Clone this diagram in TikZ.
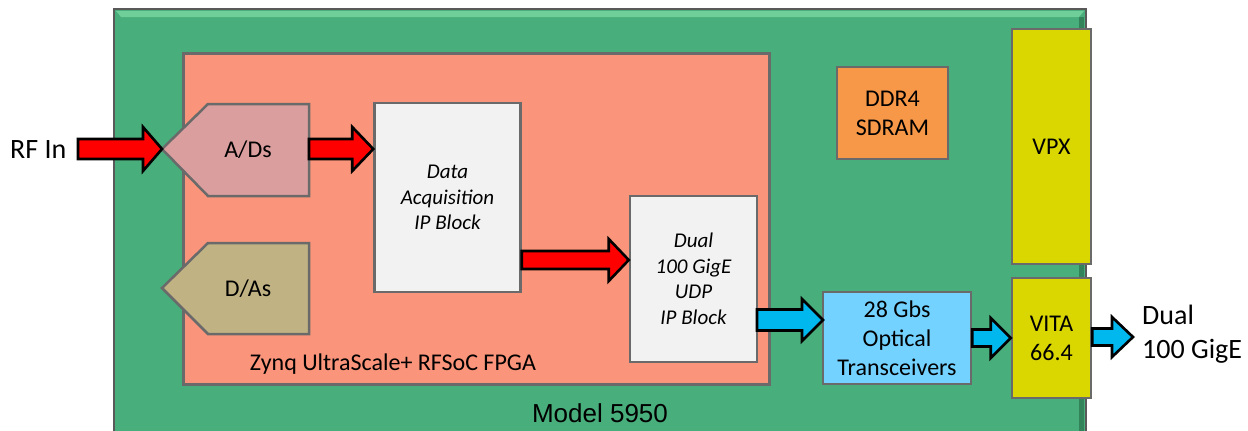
\documentclass[tikz,border=0pt]{standalone}
\usepackage{fontspec}
\setmainfont{Carlito}
\newfontfamily\arialfont{Liberation Sans}
\usetikzlibrary{calc}
\definecolor{board}{RGB}{72,174,123}
\definecolor{boardlight}{RGB}{112,206,152}
\definecolor{boarddark}{RGB}{50,130,90}
\definecolor{fpgacol}{RGB}{250,148,122}
\definecolor{adccol}{RGB}{219,158,158}
\definecolor{daccol}{RGB}{193,178,131}
\definecolor{ipcol}{RGB}{242,242,242}
\definecolor{edgecol}{RGB}{106,106,106}
\definecolor{ddrcol}{RGB}{247,152,72}
\definecolor{vpxcol}{RGB}{217,214,0}
\definecolor{opticcol}{RGB}{115,210,255}
\definecolor{bluearrow}{RGB}{0,183,238}
\definecolor{redarrow}{RGB}{255,0,0}
\newcommand\blockarrow[6]{% colour, from, to, shaft half, head half, head length
  \draw[arrowline, fill=#1] let \p1=(#2), \p2=(#3) in
    (\x1,\y2+#4) -- (\x2-#6,\y2+#4) -- (\x2-#6,\y2+#5) -- (\x2,\y2)
    -- (\x2-#6,\y2-#5) -- (\x2-#6,\y2-#4) -- (\x1,\y2-#4) -- cycle;}
\begin{document}
\begin{tikzpicture}[x=1pt,y=-1pt,
  box/.style={draw=edgecol, line width=2.5pt, inner sep=0pt, align=center,
    font=\fontsize{24pt}{29pt}\selectfont},
  ipbox/.style={box, fill=ipcol, font=\fontsize{21pt}{25.5pt}\selectfont\itshape},
  lbl/.style={inner sep=0pt, align=center, font=\fontsize{24pt}{29pt}\selectfont},
  arrowline/.style={draw=black, line width=2.6pt, line join=miter},
  shapeline/.style={draw=edgecol, line width=2.5pt, line join=miter}]
\useasboundingbox (0,0) rectangle (1248,431);
% board
\fill[board] (114,9) rectangle (1086,431);
\fill[boardlight] (116,11) -- (1084,11) -- (1079,17) -- (121,17) -- cycle;
\fill[boarddark] (1079,17) rectangle (1084,431);
\draw[draw=black!65, line width=2pt] (114,431) -- (114,9) -- (1086,9) -- (1086,431);
\node[lbl, font=\fontsize{26pt}{30pt}\selectfont\arialfont] (model) at (600,413) {Model 5950};
% FPGA
\node[box, fill=fpgacol, minimum width=586pt, minimum height=331pt, anchor=north west] (fpga) at (182,52) {};
\node[lbl, font=\fontsize{24pt}{29pt}\selectfont] (fpgalbl) at (393,364) {Zynq UltraScale+ RFSoC FPGA};
% A/Ds and D/As
\draw[shapeline, fill=adccol] (162,149) -- (208,104) -- (309,104) -- (309,196) -- (208,196) -- cycle;
\coordinate (adsw) at (162,149);
\coordinate (adse) at (309,149);
\node[lbl] (ads) at (248,150) {A/Ds};
\draw[shapeline, fill=daccol] (162,288) -- (208,243) -- (309,243) -- (309,334) -- (208,334) -- cycle;
\node[lbl] (das) at (248,289) {D/As};
% IP blocks
\node[ipbox, minimum width=146pt, minimum height=189pt] (daq) at (447.5,197.5) {Data\\Acquisition\\IP Block};
\node[ipbox, minimum width=127pt, minimum height=166pt] (udp) at (693.5,279) {Dual\\100 GigE\\UDP\\IP Block};
\coordinate (udpe) at (757,320);
% right side blocks
\node[box, fill=ddrcol, minimum width=111pt, minimum height=92pt] (ddr) at (892.5,113) {DDR4\\SDRAM};
\node[box, fill=vpxcol, minimum width=79pt, minimum height=235pt] (vpx) at (1051.5,146.5) {VPX};
\node[box, fill=opticcol, minimum width=148pt, minimum height=92pt] (optic) at (897,338) {28 Gbs\\Optical\\Transceivers};
\coordinate (opticw) at (823,320);
\node[box, fill=vpxcol, minimum width=79pt, minimum height=120pt] (vita) at (1051.5,338) {VITA\\66.4};
% external labels
\node[lbl, font=\fontsize{28pt}{34pt}\selectfont, anchor=west] (rf) at (10,150) {RF In};
\coordinate (rfstart) at (78,149);
\node[lbl, font=\fontsize{28pt}{34pt}\selectfont, align=left, anchor=west] (gige) at (1142,334) {Dual\\100 GigE};
\coordinate (gigetip) at (1133,337);
% arrows
\blockarrow{redarrow}{rfstart}{adsw}{10pt}{22pt}{19pt}
\blockarrow{redarrow}{adse}{daq.west |- adse}{10pt}{22pt}{21pt}
\blockarrow{redarrow}{daq.east |- udp.west}{udp.west |- 0,260}{9pt}{21pt}{20pt}
\blockarrow{bluearrow}{udpe}{opticw}{10.5pt}{21pt}{21pt}
\blockarrow{bluearrow}{optic.east |- vita.west}{vita.west}{8.5pt}{20pt}{20pt}
\blockarrow{bluearrow}{vita.east}{gigetip}{8.5pt}{20pt}{21pt}
\end{tikzpicture}
\end{document}
